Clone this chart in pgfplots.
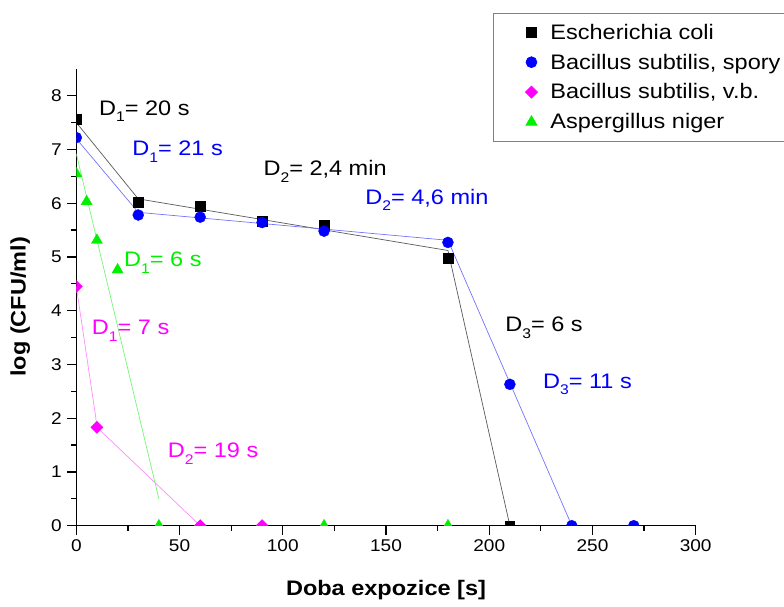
\documentclass[border=0pt]{standalone}
\usepackage{pgfplots}
\pgfplotsset{compat=1.18}
\usepackage{fontspec}
\setmainfont{Liberation Sans}[FakeStretch=1.12]
\definecolor{cblue}{RGB}{0,0,255}
\definecolor{cmag}{RGB}{255,0,255}
\definecolor{cgreen}{RGB}{0,240,0}
\newcommand{\Dsub}[1]{D\raisebox{-0.32em}{\fontsize{14}{14}\selectfont #1}}
\begin{document}
\begin{tikzpicture}
\path[use as bounding box] (-76.3pt,-80.3pt) rectangle (707.7pt,525.7pt);
\begin{axis}[
  width=619.4pt, height=456.9pt, scale only axis,
  at={(0,0)}, anchor=south west,
  xmin=0, xmax=300, ymin=0, ymax=8.5,
  axis x line=bottom, axis y line=left,
  axis line style={-, line width=1.2pt},
  tick align=outside,
  major tick style={line width=1.3pt, draw=black},
  minor tick style={line width=1.2pt, draw=black},
  major tick length=9pt, minor tick length=5pt,
  xtick={0,50,...,300}, minor xtick={25,75,...,275},
  ytick={0,1,...,8}, minor ytick={0.5,1.5,...,7.5},
  clip marker paths=true,
  /pgf/number format/assume math mode=true,
  ticklabel style={font=\fontsize{17}{20}\selectfont},
  xticklabel style={yshift=-1pt},
  yticklabel style={xshift=-2pt},
  xlabel={\textbf{Doba expozice [s]}},
  ylabel={\textbf{log (CFU/ml)}},
  label style={font=\fontsize{21}{24}\selectfont},
  xlabel style={at={(axis description cs:0.5,-0.141)}, anchor=center},
  ylabel style={at={(axis description cs:-0.0905,0.479)}, anchor=center},
  legend style={at={(axis description cs:0.673,1.123)}, anchor=north west,
    draw=gray, line width=0.6pt, fill=white, font=\fontsize{21}{24}\selectfont,
    inner xsep=10pt, inner ysep=9pt, row sep=9.2pt,
    /tikz/every even column/.append style={column sep=27pt}},
  legend cell align=left,
  legend image code/.code={\path[draw=none,fill=none] (0pt,0pt) -- (45pt,0pt); \draw[#1] plot coordinates {(28pt,0pt)};},
]
% fitted lines
\addplot[forget plot, black!65, line width=0.7pt] coordinates {(0,7.5) (30,6.08) (180,5.12) (210,0)};
\addplot[forget plot, cblue!55, line width=0.7pt] coordinates {(0,7.2) (30,5.83) (180,5.31) (240,0)};
\addplot[forget plot, cmag!45, line width=0.7pt] coordinates {(0,4.45) (9.3,2.05) (10,1.83) (60,0)};
\addplot[forget plot, cgreen!55, line width=0.7pt] coordinates {(0,6.92) (40,0.5)};
% data
\addplot[only marks, mark=square*, mark size=4.8pt, black] coordinates {
 (0,7.56) (30,6.02) (60,5.94) (90,5.66) (120,5.59) (180,4.98) (210,0)};
\addlegendentry{Escherichia coli}
\addplot[only marks, mark=*, mark size=5.5pt, cblue] coordinates {
 (0,7.22) (30,5.78) (60,5.74) (90,5.64) (120,5.48) (180,5.27) (210,2.63) (240,0) (270,0)};
\addlegendentry{Bacillus subtilis, spory}
\addplot[only marks, mark=square*, mark size=4.3pt, mark options={rotate=45}, cmag] coordinates {
 (0,4.45) (10,1.83) (60,0) (90,0)};
\addlegendentry{Bacillus subtilis, v.b.}
\addplot[only marks, mark=triangle*, mark size=6.4pt, cgreen] coordinates {
 (0,6.55) (5,6.03) (10,5.31) (20,4.76) (40,0) (120,0) (180,0)};
\addlegendentry{Aspergillus niger}
% annotations
\begin{scope}[every node/.style={anchor=base west, inner sep=0pt, font=\fontsize{21}{24}\selectfont}]
\node[black] at (axis cs:11,7.64) {\Dsub{1}= 20 s};
\node[cblue] at (axis cs:27.1,6.88) {\Dsub{1}= 21 s};
\node[black] at (axis cs:90.6,6.51) {\Dsub{2}= 2,4 min};
\node[cblue] at (axis cs:139.9,5.98) {\Dsub{2}= 4,6 min};
\node[cgreen] at (axis cs:23.1,4.82) {\Dsub{1}= 6 s};
\node[cmag] at (axis cs:7.5,3.56) {\Dsub{1}= 7 s};
\node[cmag] at (axis cs:44.3,1.27) {\Dsub{2}= 19 s};
\node[black] at (axis cs:207.7,3.61) {\Dsub{3}= 6 s};
\node[cblue] at (axis cs:226,2.56) {\Dsub{3}= 11 s};
\end{scope}
\end{axis}
\end{tikzpicture}
\end{document}
